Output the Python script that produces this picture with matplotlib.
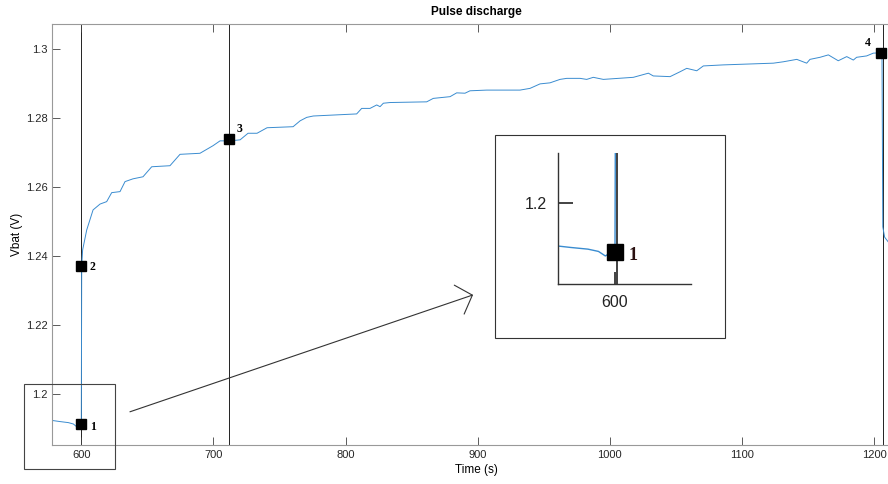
import matplotlib
matplotlib.use("Agg")
import matplotlib.pyplot as plt
from matplotlib.patches import Rectangle

plt.rcParams["font.family"] = ["Liberation Sans", "DejaVu Sans"]

# battery voltage trace
time_s = [578.4, 583.9, 590.2, 594.0, 596.5, 598.5, 600.0, 600.3, 601.0,
          604.1, 608.9, 614.2, 619.2, 623.0, 629.3, 633.1, 639.1, 646.7,
          653.3, 667.1, 674.7, 689.8, 699.7, 705.0, 712.6, 720.2, 726.2,
          733.0, 740.6, 760.3, 765.6, 770.6, 775.6, 808.4, 812.2, 818.5,
          823.6, 826.1, 828.6, 833.7, 861.4, 866.4, 874.0, 879.1, 884.1,
          890.4, 894.2, 906.8, 932.0, 939.6, 947.2, 954.7, 962.3, 967.4,
          977.5, 982.5, 987.5, 995.1, 1017.8, 1029.2, 1032.9, 1045.6, 1053.1,
          1058.2, 1065.8, 1070.8, 1085.9, 1123.8, 1131.3, 1141.5, 1149.0,
          1151.5, 1159.1, 1165.4, 1172.9, 1179.3, 1184.3, 1186.8, 1194.4,
          1199.4, 1204.5, 1206.0, 1206.6, 1208.0, 1211.0, 1216.0]
vbat = [1.1924, 1.1921, 1.1918, 1.1914, 1.1906, 1.1912, 1.1913, 1.2372, 1.2418,
        1.2476, 1.2534, 1.2551, 1.2558, 1.2584, 1.2587, 1.2616, 1.2624, 1.2630,
        1.2659, 1.2662, 1.2695, 1.2698, 1.2720, 1.2734, 1.2734, 1.2737, 1.2756,
        1.2756, 1.2772, 1.2775, 1.2792, 1.2802, 1.2806, 1.2812, 1.2828, 1.2828,
        1.2838, 1.2833, 1.2843, 1.2845, 1.2847, 1.2857, 1.2860, 1.2862, 1.2873,
        1.2872, 1.2879, 1.2881, 1.2881, 1.2886, 1.2899, 1.2902, 1.2912, 1.2915,
        1.2915, 1.2912, 1.2918, 1.2912, 1.2918, 1.2930, 1.2922, 1.2920, 1.2934,
        1.2944, 1.2937, 1.2951, 1.2954, 1.2959, 1.2963, 1.2970, 1.2959,
        1.2970, 1.2976, 1.2983, 1.2966, 1.2978, 1.2968, 1.2976, 1.2980,
        1.2988, 1.2989, 1.2989, 1.2485, 1.2455, 1.2440, 1.2425]

# marked points and vertical guide lines
point_labels = ["1", "2", "3", "4"]
point_t = [600.0, 600.0, 712.0, 1205.5]
point_v = [1.1913, 1.2372, 1.2740, 1.2989]
guide_t = [600.0, 711.5, 1206.5]

xticks = [600, 700, 800, 900, 1000, 1100, 1200]
yticks = [1.2, 1.22, 1.24, 1.26, 1.28, 1.3]

W, H = 888, 484
fig = plt.figure(figsize=(W / 100, H / 100), dpi=100)


def px_rect(x0, y0, x1, y1):
    return [x0 / W, 1 - y1 / H, (x1 - x0) / W, (y1 - y0) / H]


ax = fig.add_axes(px_rect(52.3, 23.7, 899.7, 445.3))
axis_col = "#404040"
line_col = "#3a8cd0"
ax.plot(time_s, vbat, color=line_col, lw=0.7, zorder=2)
for t in guide_t:
    ax.axvline(t, color="#222222", lw=0.7, zorder=1)
ax.plot(point_t, point_v, "s", color="black", ms=7, zorder=3)
offsets = [(6, -4), (6, -3), (5, 5), (-12, 5)]
for lab, t, v, off in zip(point_labels, point_t, point_v, offsets):
    ax.annotate(lab, (t, v), xytext=off, textcoords="offset points",
                fontfamily="Liberation Serif", fontweight="bold", fontsize=8.5)

ax.set_xlim(578.05, 1219.4)
ax.set_ylim(1.18523, 1.30733)
ax.set_xticks(xticks)
ax.set_yticks(yticks)
ax.set_yticklabels(["1.2", "1.22", "1.24", "1.26", "1.28", "1.3"])
ax.tick_params(direction="in", length=6, width=0.6, colors=axis_col,
               labelsize=8, top=True, right=True, labelcolor="#262626")
for s in ax.spines.values():
    s.set_color("#999999")
    s.set_linewidth(0.8)
ax.set_title("Pulse discharge", fontsize=8.5, fontweight="bold", pad=6)
ax.set_xlabel("Time (s)", fontsize=8.5, labelpad=3)
ax.set_ylabel("Vbat (V)", fontsize=8.5, labelpad=2)

# small box around the pulse start
fig.add_artist(Rectangle((24.3 / W, 1 - 469 / H), 91 / W, 84.7 / H,
                         transform=fig.transFigure, fill=False,
                         ec="#444444", lw=0.8))
# arrow toward the zoomed view
ax.annotate("", xy=(475.7, H - 294), xycoords="figure pixels",
            xytext=(127.3, H - 412.7), textcoords="figure pixels",
            arrowprops=dict(arrowstyle="->,head_length=1.0,head_width=1.1",
                            mutation_scale=10, color="#333333", lw=0.8))

# zoomed view frame
fig.add_artist(Rectangle((495 / W, 1 - 338 / H), 230 / W, 203 / H,
                         transform=fig.transFigure, fill=False,
                         ec="#333333", lw=0.8))
ins = fig.add_axes(px_rect(557.7, 153, 691, 284))
ins.plot(time_s, vbat, color=line_col, lw=1.0, zorder=2)
ins.axvline(600.6, color="#333333", lw=1.3, zorder=1)
ins.plot(point_t[:1], point_v[:1], "s", color="black", ms=12, zorder=3)
ins.annotate(point_labels[0], (point_t[0], point_v[0]), xytext=(10, -6),
             textcoords="offset points", fontfamily="Liberation Serif",
             fontweight="bold", fontsize=13, color="#2a1010")
ins.set_xlim(579.2, 627.6)
ins.set_ylim(1.18565, 1.20877)
ins.set_xticks([600])
ins.set_yticks([1.2])
ins.set_yticklabels(["1.2"])
ins.tick_params(direction="in", length=11, width=1.2, colors="#222222",
                labelsize=11.5, pad=8)
ins.tick_params(axis="x", length=9)
ins.spines["top"].set_visible(False)
ins.spines["right"].set_visible(False)
for s in ("left", "bottom"):
    ins.spines[s].set_color("#333333")
    ins.spines[s].set_linewidth(1.0)
ins.patch.set_alpha(0)

fig.savefig("out.png", dpi=100)
